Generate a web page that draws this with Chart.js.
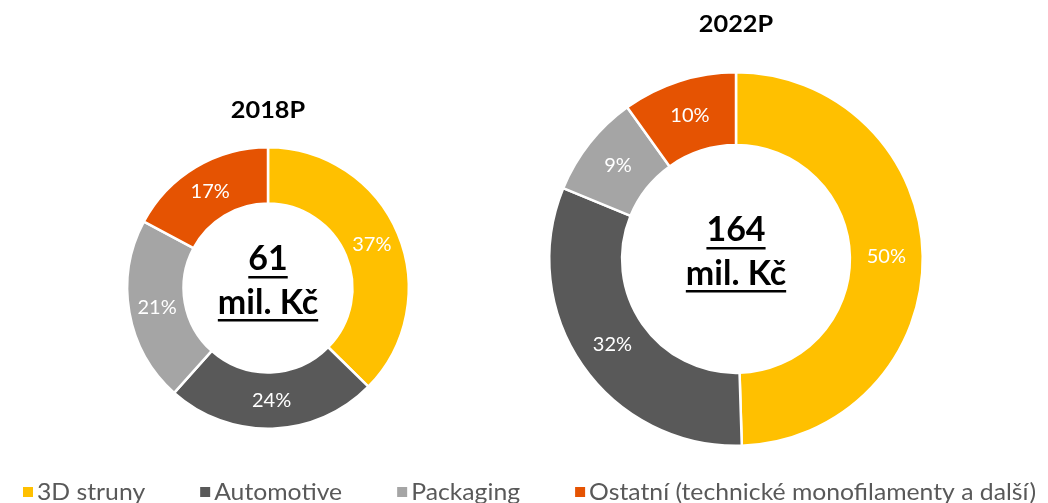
<!DOCTYPE html>
<html>
<head>
<meta charset="utf-8">
<script src="https://cdn.jsdelivr.net/npm/chart.js@4/dist/chart.umd.min.js"></script>
<style>
  body { margin: 0; background: #fff; }
  .layer { position: absolute; left: 0; top: 0; width: 1048px; height: 503px; }
</style>
</head>
<body>
<div class="layer"><canvas id="donut2018"></canvas></div>
<div class="layer"><canvas id="donut2022"></canvas></div>
<script>
// chart data
const categories = ['3D struny', 'Automotive', 'Packaging', 'Ostatní (technické monofilamenty a další)'];
const share2018 = [37, 24, 21, 17];
const share2022 = [50, 32, 9, 10];
const years = ['2018P', '2022P'];
const totals = [61, 164];
const totalUnit = 'mil. Kč';
const colors = ['#FFC000', '#595959', '#A5A5A5', '#E55302'];

// text drawn with a horizontal stretch (source font is wider than Lato)
function stretchText(ctx, text, x, y, sx) {
  ctx.save();
  ctx.translate(x, y);
  ctx.scale(sx, 1);
  ctx.fillText(text, 0, 0);
  ctx.restore();
}

function underlined(ctx, text, x, y, off) {
  ctx.fillText(text, x, y);
  const w = ctx.measureText(text).width;
  ctx.fillRect(x - w / 2, y + off, w, 2.5);
}

// % labels in the slices, year above the ring, total in the hole
const donutText = {
  id: 'donutText',
  afterDatasetsDraw(chart, args, opts) {
    const ctx = chart.ctx;
    const arcs = chart.getDatasetMeta(0).data;
    const values = chart.data.datasets[0].data;
    ctx.save();
    ctx.textAlign = 'center';
    ctx.textBaseline = 'middle';
    ctx.fillStyle = '#fff';
    ctx.font = '20px Lato';
    arcs.forEach((arc, i) => {
      const p = arc.tooltipPosition();
      ctx.fillText(values[i] + '%', p.x, p.y);
    });

    const { x, y } = arcs[0];
    ctx.fillStyle = '#000';
    ctx.textBaseline = 'alphabetic';
    ctx.font = 'bold 23px Lato';
    stretchText(ctx, opts.title, x, opts.titleY, 1.1);
    ctx.font = 'bold 34px Lato';
    underlined(ctx, String(opts.total), x, y - 18, 6);
    underlined(ctx, totalUnit, x, y + 26, 5);
    ctx.restore();
  }
};

// shared legend along the bottom edge
const bottomLegend = {
  id: 'bottomLegend',
  afterDraw(chart, args, opts) {
    if (!opts.show) return;
    const ctx = chart.ctx;
    const sx = 1.1;
    const y = 492;
    let x = 23;
    ctx.save();
    ctx.font = '22.5px Lato';
    ctx.textBaseline = 'middle';
    ctx.textAlign = 'left';
    categories.forEach((c, i) => {
      ctx.fillStyle = colors[i];
      ctx.fillRect(x, y - 5, 10, 10);
      x += 14;
      ctx.fillStyle = '#595959';
      stretchText(ctx, c, x, y + 1, sx);
      x += ctx.measureText(c).width * sx + 55;
    });
    ctx.restore();
  }
};

function makeDonut(id, values, idx, padding, cutout, titleY, showLegend) {
  return new Chart(document.getElementById(id), {
    type: 'doughnut',
    data: {
      labels: categories,
      datasets: [{
        data: values,
        backgroundColor: colors,
        borderColor: '#fff',
        borderWidth: 2.5
      }]
    },
    options: {
      responsive: true,
      maintainAspectRatio: false,
      animation: false,
      cutout: cutout,
      layout: { padding: padding },
      plugins: {
        legend: { display: false },
        tooltip: { enabled: false },
        donutText: { title: years[idx], total: totals[idx], titleY: titleY },
        bottomLegend: { show: showLegend }
      }
    },
    plugins: [donutText, bottomLegend]
  });
}

makeDonut('donut2018', share2018, 0, { left: 126, top: 146, right: 638, bottom: 73 }, '60%', 118, false);
makeDonut('donut2022', share2022, 1, { left: 548, top: 71, right: 124, bottom: 56 }, '61%', 32, true);
</script>
</body>
</html>
